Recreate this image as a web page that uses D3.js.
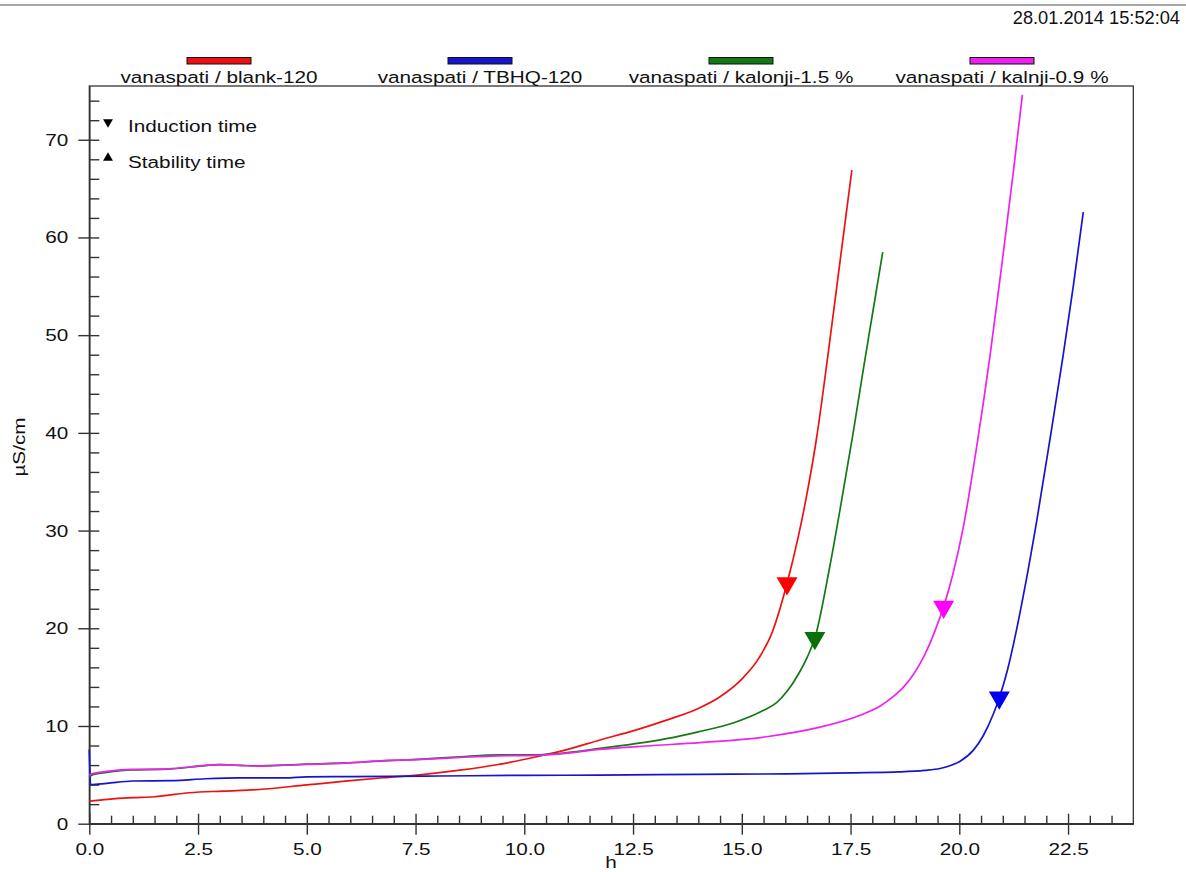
<!DOCTYPE html>
<html>
<head>
<meta charset="utf-8">
<script src="https://cdn.jsdelivr.net/npm/d3@7"></script>
<style>
  body { margin: 0; background: #fff; }
  svg { display: block; font-family: "Liberation Sans", Arial, sans-serif; }
  .axis path, .axis line { stroke: #333; }
  .axis text { font-size: 17px; fill: #111; font-family: "Liberation Sans", Arial, sans-serif; }
</style>
</head>
<body>
<svg id="chart" width="1186" height="872"></svg>
<script>
// SETUP: dimensions and margins
const W = 1186, H = 872;
const margin = { top: 86, right: 52.7, bottom: 48.3, left: 89.3 },
      width = W - margin.left - margin.right,
      height = H - margin.top - margin.bottom;

// horizontal stretch of the instrument's text
const sx = 1.22;

// DATA: [hours, µS/cm]
const blank120 = [
  [0, 2.3], [0.6, 2.57], [1.0, 2.66], [1.5, 2.76], [2.3, 3.17], [3.07, 3.34], [3.9, 3.5],
  [5.0, 3.97], [5.88, 4.35], [6.76, 4.7], [7.64, 5.03], [8.52, 5.48], [9.4, 6.06],
  [10.28, 6.85], [11.0, 7.6], [11.74, 8.57], [12.5, 9.5], [13.27, 10.6], [14.0, 11.8],
  [14.5, 13.0], [15.0, 14.8], [15.4, 17.0], [15.7, 19.6], [16.04, 24.6], [16.3, 29.4],
  [16.5, 33.8], [16.72, 39.5], [16.99, 48.3], [17.26, 57.6], [17.53, 66.9]
];
const tbhq120 = [
  [0, 7.6], [0.03, 4.0], [0.4, 4.13], [1.0, 4.37], [1.9, 4.4], [2.67, 4.6], [3.44, 4.7],
  [4.5, 4.68], [5.0, 4.8], [6.0, 4.82], [8.0, 4.88], [10.0, 4.95], [11.75, 4.97],
  [14.0, 5.05], [16.05, 5.1], [17.5, 5.2], [18.62, 5.3], [19.2, 5.45], [19.56, 5.65],
  [19.8, 5.95], [20.02, 6.4], [20.32, 7.5], [20.55, 9.0], [20.78, 11.2], [20.92, 12.9],
  [21.1, 15.6], [21.3, 19.5], [21.5, 24.0], [21.78, 31.0], [22.09, 39.5], [22.39, 48.0],
  [22.62, 55.0], [22.85, 62.6]
];
const kalonji15 = [
  [0, 4.8], [0.1, 5.05], [0.4, 5.25], [1.0, 5.5], [1.5, 5.55], [1.9, 5.62], [2.67, 5.95],
  [2.98, 6.05], [3.5, 5.97], [3.9, 5.93], [4.5, 6.0], [5.0, 6.1], [5.88, 6.22], [6.76, 6.42],
  [7.64, 6.6], [8.52, 6.85], [9.4, 7.05], [10.28, 7.05], [10.7, 7.15], [11.74, 7.7],
  [13.27, 8.7], [14.0, 9.4], [14.8, 10.3], [15.5, 11.6], [15.8, 12.4], [16.05, 13.6],
  [16.3, 15.3], [16.5, 17.0], [16.68, 19.0], [17.03, 26.5], [17.26, 32.2], [17.56, 40.0],
  [17.79, 46.4], [18.02, 52.6], [18.24, 58.5]
];
const kalnji09 = [
  [0, 5.0], [0.1, 5.15], [0.4, 5.35], [1.0, 5.55], [1.5, 5.56], [1.9, 5.63], [2.67, 5.97],
  [2.98, 6.04], [3.5, 5.95], [3.9, 5.9], [4.5, 5.98], [5.0, 6.08], [5.88, 6.2], [6.76, 6.45],
  [7.64, 6.58], [8.52, 6.78], [9.4, 6.95], [10.28, 7.0], [10.7, 7.1], [11.74, 7.6],
  [12.8, 7.95], [14.04, 8.3], [15.57, 8.9], [16.72, 9.8], [17.72, 11.1], [18.2, 12.1],
  [18.45, 12.9], [18.7, 13.9], [18.9, 15.0], [19.1, 16.4], [19.3, 18.2], [19.48, 20.2],
  [19.64, 22.2], [19.85, 25.5], [20.09, 30.3], [20.4, 38.6], [20.71, 48.0], [21.0, 58.0],
  [21.25, 67.0], [21.45, 74.6]
];

const seriesNames = ["vanaspati / blank-120", "vanaspati / TBHQ-120",
                     "vanaspati / kalonji-1.5 %", "vanaspati / kalnji-0.9 %"];
const seriesData = [blank120, tbhq120, kalonji15, kalnji09];
const seriesColors = ["#ee1111", "#1515cc", "#137a13", "#ee22ee"];
const markerColors = ["#ff0000", "#0000f0", "#0a700a", "#ff00ff"];

// induction time markers (h, µS/cm)
const inductionTimes = [16.04, 20.92, 16.68, 19.64];
const inductionValues = [24.6, 12.9, 19.0, 22.2];

const xMajorTicks = d3.range(0, 23, 2.5);
const xMinorTicks = d3.range(0.5, 24, 0.5).filter(v => Math.abs(v / 2.5 - Math.round(v / 2.5)) > 1e-6);
const yMajorTicks = d3.range(0, 71, 10);
const yMinorTicks = d3.range(2, 75, 2).filter(v => v % 10 !== 0);

const dateStamp = "28.01.2014 15:52:04";
const markerLabels = ["Induction time", "Stability time"];

// 1: SVG
const svg = d3.select("#chart");

// top rule and date
svg.append("line")
  .attr("x1", 0).attr("x2", W).attr("y1", 5).attr("y2", 5)
  .attr("stroke", "#a8a8a8").attr("stroke-width", 2);

svg.append("text")
  .attr("transform", "translate(1180,24) scale(0.96,1)")
  .attr("text-anchor", "end")
  .style("font-size", "19px")
  .attr("fill", "#111")
  .text(dateStamp);

const g = svg.append("g")
  .attr("transform", `translate(${margin.left},${margin.top})`);

// 2: SCALES
const x = d3.scaleLinear().domain([0, 24]).range([0, width]);
const y = d3.scaleLinear().domain([0, 75.5]).range([height, 0]);

// plot frame
g.append("rect")
  .attr("width", width).attr("height", height)
  .attr("fill", "none").attr("stroke", "#222").attr("stroke-width", 1.2);

// 3: AXES
// x: major ticks cross the axis, minor ticks point inside
const xAxis = g.append("g")
  .attr("class", "axis")
  .attr("transform", `translate(0,${height})`)
  .call(d3.axisBottom(x).tickValues(xMajorTicks).tickSizeInner(11).tickSizeOuter(0)
        .tickPadding(8).tickFormat(d3.format(".1f")));
xAxis.select(".domain").attr("stroke-width", 1.6);
xAxis.selectAll("line").attr("stroke-width", 1.4);
xAxis.selectAll("text").attr("transform", `scale(${sx},1)`);

g.append("g")
  .attr("class", "axis")
  .attr("transform", `translate(0,${height})`)
  .call(d3.axisTop(x).tickValues(xMajorTicks).tickSize(10).tickFormat(""))
  .call(a => a.select(".domain").remove())
  .selectAll("line").attr("stroke-width", 1.4);

g.append("g")
  .attr("class", "axis")
  .attr("transform", `translate(0,${height})`)
  .call(d3.axisTop(x).tickValues(xMinorTicks).tickSize(8).tickFormat(""))
  .call(a => a.select(".domain").remove())
  .selectAll("line").attr("stroke-width", 1.4);

// y: same idea
const yAxis = g.append("g")
  .attr("class", "axis")
  .call(d3.axisLeft(y).tickValues(yMajorTicks).tickSizeInner(11).tickSizeOuter(0)
        .tickPadding(10).tickFormat(d3.format("d")));
yAxis.select(".domain").attr("stroke-width", 1.6);
yAxis.selectAll("line").attr("stroke-width", 1.4);
yAxis.selectAll("text")
  .attr("x", -21 / sx)
  .attr("transform", `scale(${sx},1)`);

g.append("g")
  .attr("class", "axis")
  .call(d3.axisRight(y).tickValues(yMajorTicks.concat(yMinorTicks)).tickSize(10).tickFormat(""))
  .call(a => a.select(".domain").remove())
  .selectAll("line").attr("stroke-width", 1.4);

// axis titles
svg.append("text")
  .attr("transform", `translate(25,447) rotate(-90) scale(${sx},1)`)
  .attr("text-anchor", "middle")
  .style("font-size", "17px")
  .attr("fill", "#111")
  .text("µS/cm");

svg.append("text")
  .attr("transform", `translate(611,868) scale(${sx},1)`)
  .attr("text-anchor", "middle")
  .style("font-size", "17px")
  .attr("fill", "#111")
  .text("h");

// 4: LINES
const line = d3.line()
  .x(d => x(d[0]))
  .y(d => y(d[1]))
  .curve(d3.curveMonotoneX);

g.selectAll(".series")
  .data(seriesData)
  .enter()
  .append("path")
  .attr("class", "series")
  .attr("d", line)
  .attr("fill", "none")
  .attr("stroke", (d, i) => seriesColors[i])
  .attr("stroke-width", 1.7);

// induction time markers (downward triangles)
const tri = d3.symbol().type(d3.symbolTriangle).size(190);
g.selectAll(".marker")
  .data(inductionTimes)
  .enter()
  .append("path")
  .attr("class", "marker")
  .attr("d", tri)
  .attr("transform", (d, i) => `translate(${x(d)},${y(inductionValues[i])}) rotate(180)`)
  .attr("fill", (d, i) => markerColors[i]);

// 5: LEGENDS
// series legend above the frame
const legend = svg.selectAll(".legend")
  .data(seriesNames)
  .enter()
  .append("g")
  .attr("class", "legend")
  .attr("transform", (d, i) => `translate(${219 + i * 261},0)`);

legend.append("rect")
  .attr("x", -32).attr("y", 57.5)
  .attr("width", 64).attr("height", 6.5)
  .attr("fill", (d, i) => seriesColors[i])
  .attr("stroke", "#111").attr("stroke-width", 1);

legend.append("text")
  .attr("transform", `translate(0,83) scale(${sx},1)`)
  .attr("text-anchor", "middle")
  .style("font-size", "17px")
  .attr("fill", "#111")
  .text(d => d);

// marker legend inside the frame
const mLegend = svg.selectAll(".mlegend")
  .data(markerLabels)
  .enter()
  .append("g")
  .attr("class", "mlegend")
  .attr("transform", (d, i) => `translate(108,${122 + i * 36})`);

mLegend.append("path")
  .attr("d", d3.symbol().type(d3.symbolTriangle).size(42))
  .attr("transform", (d, i) => i === 0 ? "rotate(180)" : "")
  .attr("fill", "#000");

mLegend.append("text")
  .attr("transform", `translate(20,9.5) scale(${sx},1)`)
  .style("font-size", "17px")
  .attr("fill", "#111")
  .text(d => d);
</script>
</body>
</html>
